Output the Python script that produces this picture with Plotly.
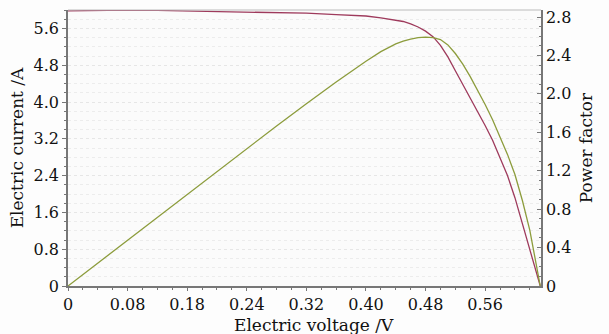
import plotly.graph_objects as go

voltage = [0, 0.04, 0.08, 0.12, 0.16, 0.20, 0.24, 0.28, 0.32, 0.36, 0.40, 0.42, 0.44,
           0.45, 0.46, 0.47, 0.48, 0.49, 0.50, 0.51, 0.52, 0.53, 0.54, 0.55, 0.56,
           0.57, 0.58, 0.59, 0.60, 0.61, 0.62, 0.63, 0.634]
current = [5.98, 5.99, 6.0, 5.99, 5.98, 5.97, 5.96, 5.95, 5.93, 5.90, 5.87, 5.83, 5.78,
           5.75, 5.70, 5.63, 5.54, 5.42, 5.23, 4.98, 4.68, 4.39, 4.09, 3.79, 3.49,
           3.17, 2.80, 2.40, 1.92, 1.35, 0.76, 0.17, 0.0]
power = [0, 0.239, 0.479, 0.719, 0.957, 1.194, 1.430, 1.666, 1.898, 2.124, 2.34, 2.44, 2.52,
         2.55, 2.57, 2.585, 2.59, 2.585, 2.565, 2.51, 2.42, 2.31, 2.18, 2.04, 1.89,
         1.73, 1.55, 1.37, 1.16, 0.89, 0.58, 0.19, 0.0]

x_tickvals = [0, 0.08, 0.16, 0.24, 0.32, 0.40, 0.48, 0.56]
x_ticktext = ["0", "0.08", "0.18", "0.24", "0.32", "0.40", "0.48", "0.56"]
y1_tickvals = [0, 0.8, 1.6, 2.4, 3.2, 4.0, 4.8, 5.6]
y1_ticktext = ["0", "0.8", "1.6", "2.4", "3.2", "4.0", "4.8", "5.6"]
y2_tickvals = [0, 0.4, 0.8, 1.2, 1.6, 2.0, 2.4, 2.8]
y2_ticktext = ["0", "0.4", "0.8", "1.2", "1.6", "2.0", "2.4", "2.8"]

font = dict(family="DejaVu Serif", size=16, color="#111")
tfont = dict(family="DejaVu Serif", size=17, color="#111")
axcol = "#777"

fig = go.Figure()
fig.add_trace(go.Scatter(x=voltage, y=current, mode="lines", line=dict(color="#9e3a5c", width=1.3),
                         showlegend=False))
fig.add_trace(go.Scatter(x=voltage, y=power, mode="lines", line=dict(color="#8c9c3c", width=1.3),
                         yaxis="y2", showlegend=False))

fig.update_layout(
    width=609, height=334,
    margin=dict(l=68, r=68, t=8, b=48),
    paper_bgcolor="#fdfdfd", plot_bgcolor="#fbfbfb",
    font=font,
    xaxis=dict(range=[0, 0.635], tickvals=x_tickvals, ticktext=x_ticktext,
               showline=True, linecolor=axcol, linewidth=1.5, mirror=False,
               ticks="outside", ticklen=3, tickcolor=axcol,
               minor=dict(dtick=0.02, ticks="outside", ticklen=2, tickcolor=axcol, showgrid=False),
               showgrid=False, zeroline=False),
    yaxis=dict(range=[0, 6.0], tickvals=y1_tickvals, ticktext=y1_ticktext,
               showline=True, linecolor=axcol, linewidth=1.5,
               ticks="outside", ticklen=4, tickcolor=axcol,
               minor=dict(dtick=0.2, ticks="outside", ticklen=2, tickcolor=axcol,
                          showgrid=True, gridcolor="#ececec", griddash="dot", gridwidth=1),
               showgrid=True, gridcolor="#e6e6e6", griddash="dot", zeroline=False,
               title=dict(text="Electric current /A", font=tfont, standoff=6)),
    yaxis2=dict(range=[0, 2.873], tickvals=y2_tickvals, ticktext=y2_ticktext,
                overlaying="y", side="right",
                showline=True, linecolor=axcol, linewidth=1.5,
                ticks="inside", ticklen=4, tickcolor=axcol,
                minor=dict(dtick=0.1, ticks="inside", ticklen=2, tickcolor=axcol),
                showgrid=False, zeroline=False,
                title=dict(text="Power factor", font=tfont, standoff=10)),
)
fig.add_annotation(text="Electric voltage /V", xref="paper", yref="paper",
                   x=0.52, y=-0.142, xanchor="center", yanchor="middle",
                   showarrow=False, font=tfont)
fig.add_shape(type="line", xref="paper", yref="paper", x0=0, x1=1, y0=1, y1=1,
              line=dict(color="#bbb", width=1))

fig.write_html("out.html")
